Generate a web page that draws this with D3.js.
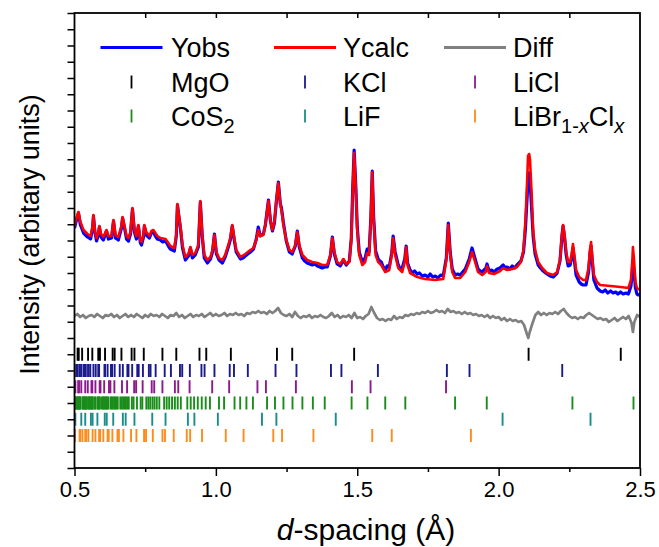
<!DOCTYPE html>
<html><head><meta charset="utf-8">
<script src="https://cdn.jsdelivr.net/npm/d3@7"></script>
<style>
body{margin:0;background:#fff}
svg{display:block}
text{font-family:"Liberation Sans",Arial,sans-serif;fill:#000}
</style>
</head><body>
<svg id="chart" width="659" height="547"></svg>
<script>
// ---------------- DATA ----------------
const xTickLabels = [0.5, 1.0, 1.5, 2.0, 2.5];
const xMinorTicks = [0.75, 1.25, 1.75, 2.25];

// Ycalc: [d-spacing (Å), intensity (arb.)]
const yCalc = [[0.500,242],[0.507,250],[0.514,256],[0.521,246],[0.532,238],[0.546,234],[0.557,232],[0.564,242],[0.567,253],[0.572,238],[0.578,230],[0.585,236],[0.588,242],[0.594,234],[0.602,231],[0.613,238],[0.620,232],[0.631,232],[0.638,248],[0.645,233],[0.655,231],[0.666,242],[0.670,251],[0.677,242],[0.684,232],[0.691,230],[0.698,236],[0.705,260],[0.712,238],[0.719,232],[0.726,243],[0.733,228],[0.737,226],[0.744,233],[0.747,243],[0.754,236],[0.765,232],[0.772,237],[0.779,238],[0.786,235],[0.793,232],[0.804,230],[0.822,229],[0.832,225],[0.839,222],[0.853,220],[0.860,233],[0.864,264],[0.869,253],[0.875,241],[0.882,223],[0.892,211],[0.903,214],[0.910,221],[0.917,213],[0.927,215],[0.938,223],[0.945,267],[0.952,233],[0.959,213],[0.970,208],[0.981,211],[0.988,218],[0.995,233],[1.002,216],[1.011,210],[1.023,208],[1.033,213],[1.044,223],[1.051,230],[1.058,243],[1.065,230],[1.072,218],[1.087,211],[1.104,214],[1.122,218],[1.133,220],[1.143,228],[1.150,238],[1.157,232],[1.168,233],[1.175,243],[1.186,267],[1.193,248],[1.200,238],[1.207,246],[1.214,268],[1.221,285],[1.228,263],[1.232,258],[1.239,243],[1.249,228],[1.260,218],[1.270,216],[1.281,223],[1.288,236],[1.295,223],[1.306,213],[1.323,208],[1.341,206],[1.359,205],[1.376,203],[1.394,203],[1.405,213],[1.412,230],[1.419,216],[1.429,206],[1.440,204],[1.451,209],[1.461,204],[1.472,206],[1.479,228],[1.484,278],[1.489,315],[1.495,278],[1.500,238],[1.507,213],[1.518,203],[1.528,206],[1.535,215],[1.542,213],[1.548,248],[1.553,296],[1.558,248],[1.565,213],[1.574,206],[1.585,203],[1.599,196],[1.613,198],[1.622,213],[1.627,230],[1.634,213],[1.645,200],[1.659,196],[1.668,206],[1.673,221],[1.678,203],[1.687,195],[1.712,191],[1.740,189],[1.776,188],[1.804,189],[1.815,208],[1.822,243],[1.829,213],[1.836,196],[1.846,190],[1.864,190],[1.882,196],[1.896,206],[1.906,216],[1.917,206],[1.927,196],[1.942,193],[1.954,196],[1.959,202],[1.966,195],[1.984,194],[2.005,197],[2.016,200],[2.030,198],[2.048,199],[2.065,201],[2.079,206],[2.088,218],[2.095,248],[2.101,288],[2.104,312],[2.108,314],[2.111,308],[2.117,273],[2.122,238],[2.129,218],[2.140,206],[2.154,200],[2.171,195],[2.193,193],[2.207,196],[2.217,208],[2.224,233],[2.228,243],[2.233,233],[2.239,216],[2.246,206],[2.253,206],[2.258,213],[2.263,224],[2.269,210],[2.274,198],[2.285,191],[2.299,188],[2.309,188],[2.318,200],[2.323,218],[2.327,226],[2.332,208],[2.337,193],[2.348,186],[2.359,183],[2.396,182],[2.431,181],[2.459,180],[2.468,188],[2.473,208],[2.475,221],[2.479,208],[2.484,186],[2.489,180],[2.500,178]];

// Yobs
const yObs = [[0.500,240],[0.507,248],[0.514,255],[0.521,243],[0.532,235],[0.539,233],[0.546,231],[0.557,229],[0.564,240],[0.567,252],[0.572,236],[0.578,227],[0.585,234],[0.588,241],[0.594,231],[0.602,228],[0.613,237],[0.620,229],[0.631,230],[0.638,247],[0.645,230],[0.655,228],[0.666,240],[0.670,250],[0.677,240],[0.684,229],[0.691,227],[0.698,234],[0.705,259],[0.712,236],[0.719,229],[0.726,242],[0.733,225],[0.737,223],[0.744,231],[0.747,242],[0.754,233],[0.765,230],[0.772,235],[0.779,236],[0.786,232],[0.793,229],[0.804,228],[0.812,226],[0.822,227],[0.832,222],[0.839,219],[0.846,218],[0.853,217],[0.860,232],[0.864,263],[0.869,252],[0.875,239],[0.882,220],[0.892,208],[0.903,212],[0.910,220],[0.917,210],[0.927,213],[0.938,221],[0.945,266],[0.952,231],[0.959,210],[0.970,205],[0.981,209],[0.988,216],[0.995,234],[1.002,214],[1.011,208],[1.023,205],[1.033,211],[1.044,221],[1.051,228],[1.058,242],[1.065,228],[1.072,216],[1.087,209],[1.096,210],[1.104,212],[1.113,214],[1.122,216],[1.133,219],[1.143,229],[1.150,241],[1.157,232],[1.168,234],[1.175,243],[1.186,268],[1.193,247],[1.200,237],[1.207,245],[1.214,267],[1.221,286],[1.228,264],[1.232,260],[1.239,245],[1.249,227],[1.260,216],[1.270,214],[1.281,222],[1.288,237],[1.295,221],[1.306,210],[1.314,207],[1.323,205],[1.332,204],[1.341,203],[1.350,204],[1.359,202],[1.368,201],[1.376,200],[1.385,201],[1.394,201],[1.405,212],[1.412,231],[1.419,214],[1.429,204],[1.440,202],[1.451,208],[1.461,203],[1.472,207],[1.479,230],[1.484,280],[1.489,318],[1.495,281],[1.500,241],[1.507,216],[1.518,206],[1.528,210],[1.535,219],[1.542,216],[1.548,250],[1.553,297],[1.558,251],[1.565,217],[1.574,209],[1.580,207],[1.585,206],[1.592,201],[1.599,198],[1.606,202],[1.613,201],[1.622,215],[1.627,232],[1.634,216],[1.645,203],[1.652,199],[1.659,200],[1.668,209],[1.673,222],[1.678,205],[1.687,198],[1.695,195],[1.703,197],[1.712,194],[1.720,195],[1.730,192],[1.740,193],[1.750,191],[1.758,194],[1.767,191],[1.776,192],[1.785,190],[1.795,193],[1.804,192],[1.815,210],[1.822,245],[1.829,215],[1.836,199],[1.846,193],[1.855,194],[1.864,193],[1.873,196],[1.882,199],[1.896,209],[1.906,220],[1.917,209],[1.927,199],[1.935,197],[1.942,196],[1.948,198],[1.954,199],[1.959,204],[1.966,197],[1.975,198],[1.984,196],[1.995,199],[2.005,200],[2.016,203],[2.023,200],[2.030,201],[2.040,199],[2.048,202],[2.057,200],[2.065,203],[2.079,207],[2.088,216],[2.095,240],[2.101,272],[2.104,290],[2.108,295],[2.111,288],[2.117,258],[2.122,232],[2.129,214],[2.140,203],[2.148,200],[2.154,198],[2.162,196],[2.171,194],[2.182,192],[2.193,191],[2.200,193],[2.207,195],[2.217,207],[2.224,232],[2.228,242],[2.233,231],[2.239,213],[2.246,202],[2.253,203],[2.258,210],[2.263,220],[2.269,205],[2.274,193],[2.285,186],[2.292,184],[2.299,183],[2.309,183],[2.318,196],[2.323,214],[2.327,222],[2.332,204],[2.337,188],[2.348,180],[2.359,177],[2.368,176],[2.377,178],[2.386,175],[2.396,177],[2.405,175],[2.414,176],[2.422,174],[2.431,176],[2.440,174],[2.450,175],[2.459,174],[2.468,182],[2.473,197],[2.475,206],[2.479,196],[2.484,180],[2.489,174],[2.495,173],[2.500,173]];

// Diff (offset)
const yDiff = [[0.50,152],[0.51,154],[0.52,151],[0.53,153],[0.54,150],[0.55,152],[0.56,153],[0.57,151],[0.58,154],[0.59,152],[0.60,150],[0.61,153],[0.62,152],[0.63,154],[0.64,151],[0.65,153],[0.66,150],[0.67,152],[0.68,154],[0.69,151],[0.70,153],[0.71,151],[0.72,154],[0.73,152],[0.74,150],[0.75,153],[0.76,151],[0.77,154],[0.78,152],[0.79,153],[0.80,151],[0.81,154],[0.82,152],[0.83,150],[0.84,153],[0.85,152],[0.86,155],[0.87,151],[0.88,153],[0.89,150],[0.90,152],[0.91,154],[0.92,151],[0.93,153],[0.94,152],[0.95,154],[0.96,151],[0.97,153],[0.98,155],[0.99,152],[1.00,154],[1.01,152],[1.02,153],[1.03,155],[1.04,152],[1.05,154],[1.06,153],[1.07,155],[1.08,153],[1.09,154],[1.10,152],[1.11,155],[1.12,154],[1.13,156],[1.14,155],[1.15,157],[1.16,155],[1.17,156],[1.18,154],[1.19,157],[1.20,155],[1.21,157],[1.22,160],[1.23,155],[1.24,153],[1.25,152],[1.26,154],[1.27,151],[1.28,156],[1.29,152],[1.30,150],[1.31,152],[1.32,151],[1.33,153],[1.34,150],[1.35,152],[1.36,151],[1.37,153],[1.38,151],[1.39,150],[1.40,152],[1.41,155],[1.42,151],[1.43,153],[1.44,150],[1.45,152],[1.46,151],[1.47,153],[1.48,150],[1.49,155],[1.50,150],[1.51,151],[1.52,149],[1.53,152],[1.54,154],[1.55,161],[1.56,155],[1.57,150],[1.58,148],[1.59,149],[1.60,147],[1.61,149],[1.62,148],[1.63,152],[1.64,149],[1.65,151],[1.66,150],[1.67,153],[1.68,152],[1.69,154],[1.70,153],[1.71,155],[1.72,154],[1.73,156],[1.74,155],[1.75,157],[1.76,155],[1.77,156],[1.78,158],[1.79,156],[1.80,157],[1.81,155],[1.82,159],[1.83,156],[1.84,157],[1.85,155],[1.86,156],[1.87,154],[1.88,156],[1.89,154],[1.90,155],[1.91,153],[1.92,154],[1.93,152],[1.94,153],[1.95,151],[1.96,153],[1.97,150],[1.98,152],[1.99,150],[2.00,151],[2.01,148],[2.02,150],[2.03,147],[2.04,149],[2.05,147],[2.06,148],[2.07,146],[2.08,147],[2.09,143],[2.10,134],[2.105,130],[2.11,136],[2.12,145],[2.13,153],[2.14,156],[2.15,153],[2.16,155],[2.17,153],[2.18,155],[2.19,154],[2.20,156],[2.21,154],[2.22,157],[2.23,159],[2.24,155],[2.25,152],[2.26,150],[2.27,151],[2.28,149],[2.29,151],[2.30,150],[2.31,153],[2.32,155],[2.33,153],[2.34,151],[2.35,149],[2.36,150],[2.37,148],[2.38,149],[2.39,146],[2.40,148],[2.41,150],[2.42,147],[2.43,149],[2.44,151],[2.45,149],[2.46,152],[2.47,145],[2.475,136],[2.48,146],[2.49,153],[2.50,151]];

// Reflection positions (d-spacing, Å)
const reflMgO = [2.432,2.106,1.489,1.270,1.216,1.053,0.966,0.942,0.860,0.811,0.745,0.712,0.702,0.666,0.642,0.635,0.608,0.590,0.584,0.563,0.548,0.527,0.515,0.511];
const reflKCl = [2.225,1.897,1.817,1.573,1.444,1.407,1.285,1.211,1.113,1.064,1.049,0.995,0.960,0.949,0.908,0.881,0.873,0.841,0.819,0.787,0.769,0.763,0.742,0.727,0.722,0.704,0.691,0.687,0.671,0.660,0.642,0.633,0.629,0.617,0.608,0.606,0.587,0.584,0.575,0.567,0.556,0.550,0.548,0.540,0.534,0.532,0.524,0.519,0.517,0.510,0.506];
const reflLiCl = [1.814,1.547,1.481,1.283,1.177,1.147,1.047,0.987,0.907,0.867,0.855,0.811,0.782,0.773,0.741,0.718,0.711,0.686,0.668,0.641,0.627,0.622,0.605,0.592,0.589,0.574,0.563,0.560,0.547,0.538,0.524,0.516,0.513,0.503];
const reflCoS2 = [2.477,2.261,1.958,1.846,1.670,1.599,1.536,1.480,1.385,1.343,1.306,1.271,1.239,1.209,1.181,1.131,1.108,1.086,1.066,1.029,1.011,0.979,0.964,0.950,0.936,0.923,0.911,0.899,0.876,0.865,0.855,0.845,0.835,0.826,0.817,0.800,0.791,0.783,0.776,0.768,0.761,0.754,0.740,0.734,0.721,0.709,0.703,0.692,0.687,0.682,0.677,0.672,0.667,0.662,0.653,0.648,0.644,0.640,0.635,0.631,0.627,0.619,0.615,0.612,0.608,0.604,0.601,0.597,0.590,0.587,0.584,0.581,0.574,0.571,0.565,0.562,0.560,0.557,0.554,0.551,0.548,0.543,0.541,0.538,0.536,0.533,0.531,0.528,0.521,0.519,0.517,0.514,0.512,0.510,0.506,0.504,0.502];
const reflLiF = [2.325,2.014,1.424,1.214,1.163,1.007,0.924,0.901,0.822,0.775,0.712,0.681,0.671,0.637,0.614,0.607,0.581,0.564,0.558,0.538,0.524,0.503];
const reflLiBrCl = [1.902,1.622,1.553,1.345,1.234,1.203,1.098,1.035,0.951,0.909,0.897,0.851,0.820,0.811,0.777,0.753,0.746,0.719,0.700,0.673,0.657,0.652,0.634,0.621,0.617,0.602,0.591,0.587,0.574,0.564,0.549,0.541,0.538,0.528,0.520,0.518,0.502];

const phaseNames = ["MgO","KCl","LiCl","CoS2","LiF","LiBr1-xClx"];
const phaseColors = ["#000000","#1a1a8c","#8c1a8c","#1a8c1a","#1a8c8c","#ff8c1a"];
const phaseRefl = [reflMgO, reflKCl, reflLiCl, reflCoS2, reflLiF, reflLiBrCl];

// ---------------- CHART ----------------
const svg = d3.select("#chart");
const L = 74.5, R = 640, T = 13, B = 468;
const x = d3.scaleLinear().domain([0.5, 2.5]).range([L, R]);
const y = d3.scaleLinear().domain([0, 455]).range([B, T]);
const tickStep = 16.25;

svg.append("defs").append("clipPath").attr("id","clip")
  .append("rect").attr("x",L).attr("y",T).attr("width",R-L).attr("height",B-T);

const plot = svg.append("g").attr("clip-path","url(#clip)");
const line = d3.line().x(d=>x(d[0])).y(d=>y(d[1]));

plot.append("path").datum(yDiff).attr("d",line)
  .attr("fill","none").attr("stroke","#808080").attr("stroke-width",2.7).attr("stroke-linejoin","round");
plot.append("path").datum(yObs).attr("d",line)
  .attr("fill","none").attr("stroke","#0000ff").attr("stroke-width",3.2).attr("stroke-linejoin","round");
plot.append("path").datum(yCalc).attr("d",line)
  .attr("fill","none").attr("stroke","#ff0000").attr("stroke-width",2.6).attr("stroke-linejoin","round");

// reflection tick rows
phaseRefl.forEach((refl, i) => {
  const c = tickStep * (7 - i);
  plot.append("g").selectAll("line").data(refl).join("line")
    .attr("x1", d=>x(d)).attr("x2", d=>x(d))
    .attr("y1", y(c) - 6.5).attr("y2", y(c) + 6.5)
    .attr("stroke", phaseColors[i]).attr("stroke-width", 1.9);
});

// axes
const gx = svg.append("g").attr("transform",`translate(0,${B})`)
  .call(d3.axisBottom(x).tickValues(xTickLabels).tickSize(8).tickPadding(5).tickFormat(d3.format(".1f")));
gx.select(".domain").remove();
gx.selectAll("text").attr("font-size",22).attr("font-family","Liberation Sans, Arial, sans-serif").attr("fill","#000");
gx.selectAll("line").attr("stroke","#000").attr("stroke-width",1.5);

const gxm = svg.append("g").attr("transform",`translate(0,${B})`)
  .call(d3.axisBottom(x).tickValues(xMinorTicks).tickSize(4).tickFormat(""));
gxm.select(".domain").remove();
gxm.selectAll("line").attr("stroke","#000").attr("stroke-width",1.5);

const gt = svg.append("g").attr("transform",`translate(0,${T})`)
  .call(d3.axisTop(x).tickValues([0.75,1.0,1.25,1.5,1.75,2.0,2.25]).tickSize(-5).tickFormat(""));
gt.select(".domain").remove();
gt.selectAll("line").attr("stroke","#000").attr("stroke-width",1.5);

const gy = svg.append("g").attr("transform",`translate(${L},0)`)
  .call(d3.axisLeft(y).tickValues(d3.range(0, 455.1, tickStep)).tickSize(7).tickFormat(""));
gy.select(".domain").remove();
gy.selectAll("line").attr("stroke","#000").attr("stroke-width",1.5);

svg.append("rect").attr("x",L).attr("y",T).attr("width",R-L).attr("height",B-T)
  .attr("fill","none").attr("stroke","#000").attr("stroke-width",1.8);

// axis titles
const xt = svg.append("text").attr("x",366).attr("y",540).attr("text-anchor","middle").attr("font-size",30);
xt.append("tspan").attr("font-style","italic").text("d");
xt.append("tspan").text("-spacing (Å)");

svg.append("text").attr("transform",`translate(39,${(T+B)/2 - 6}) rotate(-90)`)
  .attr("text-anchor","middle").attr("font-size",27).text("Intensity (arbitary units)");

// legend
const colX = [131.5, 305, 475];
const txtX = [171, 343, 513];
const lineLegend = [["Yobs","#0000ff"],["Ycalc","#ff0000"],["Diff","#808080"]];
lineLegend.forEach((d,i)=>{
  svg.append("line").attr("x1",colX[i]-31).attr("x2",colX[i]+31).attr("y1",47.5).attr("y2",47.5)
    .attr("stroke",d[1]).attr("stroke-width",3);
  svg.append("text").attr("x",txtX[i]).attr("y",56.5).attr("font-size",27).text(d[0]);
});
phaseNames.forEach((name,i)=>{
  const row = Math.floor(i/3), col = i%3;
  const cy = 82 + row*34;
  svg.append("line").attr("x1",colX[col]).attr("x2",colX[col]).attr("y1",cy-6.5).attr("y2",cy+6.5)
    .attr("stroke",phaseColors[i]).attr("stroke-width",1.8);
  const t = svg.append("text").attr("x",txtX[col]).attr("y",cy+9.5).attr("font-size",27);
  if (name === "CoS2") {
    t.append("tspan").text("CoS");
    t.append("tspan").attr("dy",7).attr("font-size",20).text("2");
  } else if (name === "LiBr1-xClx") {
    t.append("tspan").text("LiBr");
    t.append("tspan").attr("dy",7).attr("font-size",20).text("1-");
    t.append("tspan").attr("font-size",20).attr("font-style","italic").text("x");
    t.append("tspan").attr("dy",-7).text("Cl");
    t.append("tspan").attr("dy",7).attr("font-size",20).attr("font-style","italic").text("x");
  } else {
    t.text(name);
  }
});
</script>
</body></html>
